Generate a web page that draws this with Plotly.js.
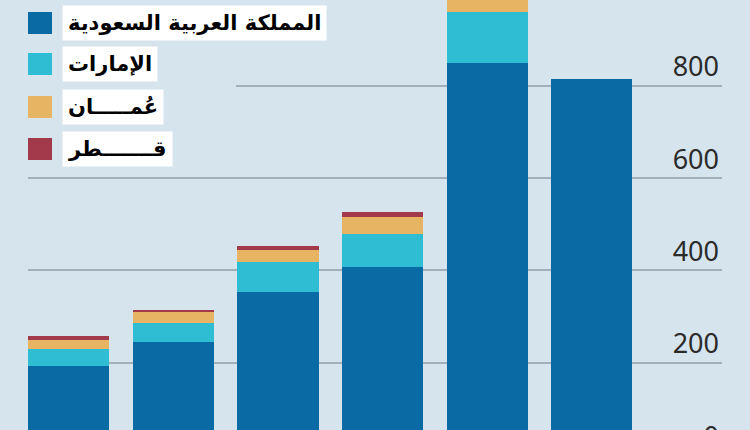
<!DOCTYPE html>
<html>
<head>
<meta charset="utf-8">
<script src="https://cdn.plot.ly/plotly-3.0.1.min.js"></script>
<style>
html,body{margin:0;padding:0;background:#d6e4ee;}
#wrap{width:750px;height:430px;overflow:hidden;}
</style>
</head>
<body>
<div id="wrap"><div id="chart"></div></div>
<script>
// Data
const categories = ["1", "2", "3", "4", "5", "6"];
const saudi  = [192, 244, 352, 408, 848, 814];
const uae    = [38, 42, 66, 71, 111, 0];
const oman   = [20, 23, 26, 36, 40, 0];
const qatar  = [7, 6, 9, 11, 12, 0];
const seriesNames = ["المملكة العربية السعودية", "الإمارات", "عُمـــــان", "قـــــــطر"];
const seriesColors = ["#0a6aa3", "#2fbdd4", "#e6b462", "#a23a4b"];
const yTicks = [0, 200, 400, 600, 800];

const bg = "#d6e4ee";
const W = 750, H = 460;
const ml = 28, mr = 28, mt = 0, mb = 5;
const pw = W - ml - mr, ph = H - mt - mb;

const allSeries = [saudi, uae, oman, qatar];
const traces = allSeries.map((vals, i) => ({
  type: "bar",
  x: categories,
  y: vals,
  name: seriesNames[i],
  marker: {color: seriesColors[i], line: {width: 0}},
  hoverinfo: "skip"
}));

// legend built from shapes + annotations (pixel -> paper helpers)
const px2x = p => (p - ml) / pw;
const py2y = p => 1 - (p - mt) / ph;
const rowCenters = [23, 64, 107, 149];
const shapes = [{
  type: "rect", xref: "paper", yref: "paper", layer: "above",
  x0: px2x(0), x1: px2x(236), y0: py2y(172), y1: py2y(0),
  fillcolor: bg, line: {width: 0}
}];
const annotations = [];
seriesNames.forEach((n, i) => {
  const c = rowCenters[i];
  shapes.push({
    type: "rect", xref: "paper", yref: "paper", layer: "above",
    x0: px2x(28), x1: px2x(52), y0: py2y(c + 11), y1: py2y(c - 11),
    fillcolor: seriesColors[i], line: {width: 0}
  });
  annotations.push({
    xref: "paper", yref: "paper", x: px2x(62), y: py2y(c),
    xanchor: "left", yanchor: "middle", showarrow: false,
    text: "<b>" + n + "</b>",
    font: {family: "DejaVu Sans", size: 21, color: "#000"},
    bgcolor: "#ffffff", borderpad: 5
  });
});

const layout = {
  width: W, height: H,
  margin: {l: ml, r: mr, t: mt, b: mb},
  paper_bgcolor: bg, plot_bgcolor: bg,
  barmode: "stack", bargap: 0.223,
  showlegend: false,
  xaxis: {
    type: "category", range: [-0.39, 6.245],
    showticklabels: false, showgrid: false, zeroline: false, ticks: ""
  },
  yaxis: {
    side: "right", range: [0, 985.5],
    tickvals: yTicks, ticktext: yTicks.map(String),
    ticklabelposition: "inside top",
    tickfont: {family: "Noto Sans", size: 27, color: "#2b2b2b"},
    showgrid: true, gridcolor: "#a3afba", gridwidth: 2,
    zeroline: false, ticks: ""
  },
  shapes: shapes,
  annotations: annotations
};

Plotly.newPlot("chart", traces, layout, {displayModeBar: false, staticPlot: true});
</script>
</body>
</html>
